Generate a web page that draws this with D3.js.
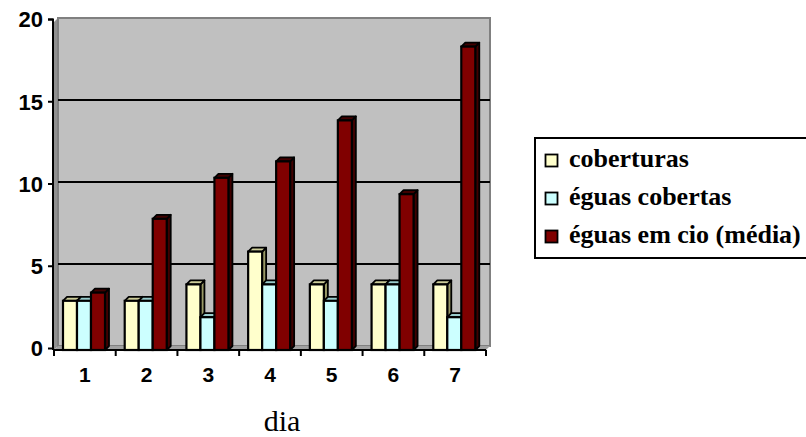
<!DOCTYPE html>
<html>
<head>
    <meta charset="utf-8">
    <title>dia</title>
    <script src="https://d3js.org/d3.v7.min.js"></script>
    <style>
        body { margin: 0; padding: 0; background: #fff; }
    </style>
</head>
<body>
<div id="chart"></div>
<script>
    // data
    var dias = ["1", "2", "3", "4", "5", "6", "7"];
    var coberturas = [3, 3, 4, 6, 4, 4, 4];
    var eguasCobertas = [3, 3, 2, 4, 3, 4, 2];
    var eguasEmCio = [3.5, 8, 10.5, 11.5, 14, 9.5, 18.5];
    var seriesNames = ["coberturas", "éguas cobertas", "éguas em cio (média)"];
    var yTicks = [0, 5, 10, 15, 20];

    var series = [
        { name: seriesNames[0], values: coberturas, front: "#FFFFCC", top: "#CCCC99", side: "#999966" },
        { name: seriesNames[1], values: eguasCobertas, front: "#CCFFFF", top: "#99CCCC", side: "#669999" },
        { name: seriesNames[2], values: eguasEmCio, front: "#800000", top: "#400000", side: "#400000" }
    ];

    var width = 806, height = 437;
    var dx = 4, dy = 4; // 3d depth offset
    var left = 54, right = 486, base = 350;
    var sansBold = "'Liberation Sans', Arial, sans-serif";
    var serif = "'Liberation Serif', 'Times New Roman', serif";

    var svg = d3.select("#chart").append("svg")
        .attr("width", width)
        .attr("height", height);

    var x = d3.scaleBand().domain(dias).range([left, right]);
    var y = d3.scaleLinear().domain([0, 20]).range([base, 22]);      // front of the bars
    var yBack = d3.scaleLinear().domain([0, 20]).range([base - dy, 18]); // back wall

    // left wall
    svg.append("polygon")
        .attr("points", [[left, y(20)], [left + dx, yBack(20)], [left + dx, yBack(0)], [left, base]].join(" "))
        .style("fill", "#909090");

    // back wall
    svg.append("rect")
        .attr("x", left + dx)
        .attr("y", yBack(20))
        .attr("width", right - left)
        .attr("height", yBack(0) - yBack(20))
        .style("fill", "#C0C0C0")
        .style("stroke", "#808080")
        .style("stroke-width", 2);

    // floor
    svg.append("polygon")
        .attr("points", [[left, base], [right, base], [right + dx, base - dy], [left + dx, base - dy]].join(" "))
        .style("fill", "#a0a0a0");

    // gridlines on back wall
    svg.selectAll(".grid")
        .data(yTicks.filter(function(d) { return d > 0 && d < 20; }))
        .enter().append("line")
        .attr("x1", left + dx)
        .attr("x2", right + dx)
        .attr("y1", function(d) { return yBack(d); })
        .attr("y2", function(d) { return yBack(d); })
        .style("stroke", "#000")
        .style("stroke-width", 2.2);

    // bars
    var barW = 14, pad = 9;
    series.forEach(function(s, si) {
        var g = svg.append("g");
        s.values.forEach(function(v, i) {
            var x0 = x(dias[i]) + pad + si * barW;
            var x1 = x0 + barW;
            var yt = y(v);
            g.append("polygon")
                .attr("points", [[x1, yt], [x1 + dx, yt - dy], [x1 + dx, base - dy], [x1, base]].join(" "))
                .style("fill", s.side).style("stroke", "#000").style("stroke-width", 1.8)
                .style("stroke-linejoin", "round");
            g.append("polygon")
                .attr("points", [[x0, yt], [x0 + dx, yt - dy], [x1 + dx, yt - dy], [x1, yt]].join(" "))
                .style("fill", s.top).style("stroke", "#000").style("stroke-width", 1.8)
                .style("stroke-linejoin", "round");
            g.append("rect")
                .attr("x", x0).attr("y", yt)
                .attr("width", barW).attr("height", base - yt)
                .style("fill", s.front).style("stroke", "#000").style("stroke-width", 2.2);
        });
    });

    // y axis
    var yAxisScale = d3.scaleLinear().domain([0, 20]).range([348, 19]);
    var yAxis = d3.axisLeft(yAxisScale).tickValues(yTicks).tickSize(5).tickPadding(5);
    var ya = svg.append("g")
        .attr("transform", "translate(" + (left - 1) + ",0)")
        .call(yAxis);
    ya.select(".domain").attr("d", "M-5,19.5H0V" + base).style("stroke", "#000").style("stroke-width", 2);
    ya.selectAll(".tick line").style("stroke", "#000").style("stroke-width", 2);
    ya.selectAll(".tick text")
        .attr("dy", "0.36em")
        .style("font-family", sansBold).style("font-weight", "bold").style("font-size", "22px")
        .style("fill", "#000");

    // x axis
    var xAxis = d3.axisBottom(x).tickSize(0).tickPadding(17);
    var xa = svg.append("g")
        .attr("transform", "translate(0," + base + ")")
        .call(xAxis);
    xa.select(".domain").attr("d", "M" + (left - 1) + ",0H" + right).style("stroke", "#000").style("stroke-width", 2);
    xa.selectAll(".tick text")
        .attr("dy", "0.71em")
        .style("font-family", sansBold).style("font-weight", "bold").style("font-size", "21px")
        .style("fill", "#000");
    // category separators
    xa.selectAll(".sep")
        .data(dias.concat(["end"]))
        .enter().append("line")
        .attr("x1", function(d, i) { return left + i * x.step(); })
        .attr("x2", function(d, i) { return left + i * x.step(); })
        .attr("y1", 0).attr("y2", 6)
        .style("stroke", "#000").style("stroke-width", 2);

    // axis title
    svg.append("text")
        .attr("x", 282)
        .attr("y", 431)
        .attr("text-anchor", "middle")
        .style("font-family", serif)
        .style("font-size", "30px")
        .text("dia");

    // legend
    var lg = svg.append("g").attr("transform", "translate(535,138)");
    lg.append("rect")
        .attr("x", 0).attr("y", 0)
        .attr("width", 275).attr("height", 120)
        .style("fill", "#fff").style("stroke", "#000").style("stroke-width", 2);
    series.forEach(function(s, i) {
        var by = 29 + i * 38;
        lg.append("rect")
            .attr("x", 10.5).attr("y", by - 12.5)
            .attr("width", 12).attr("height", 12)
            .style("fill", s.front).style("stroke", "#000").style("stroke-width", 1.8);
        lg.append("text")
            .attr("x", 34).attr("y", by)
            .style("font-family", serif).style("font-weight", "bold").style("font-size", "26px")
            .style("fill", "#000")
            .text(s.name);
    });
</script>
</body>
</html>
